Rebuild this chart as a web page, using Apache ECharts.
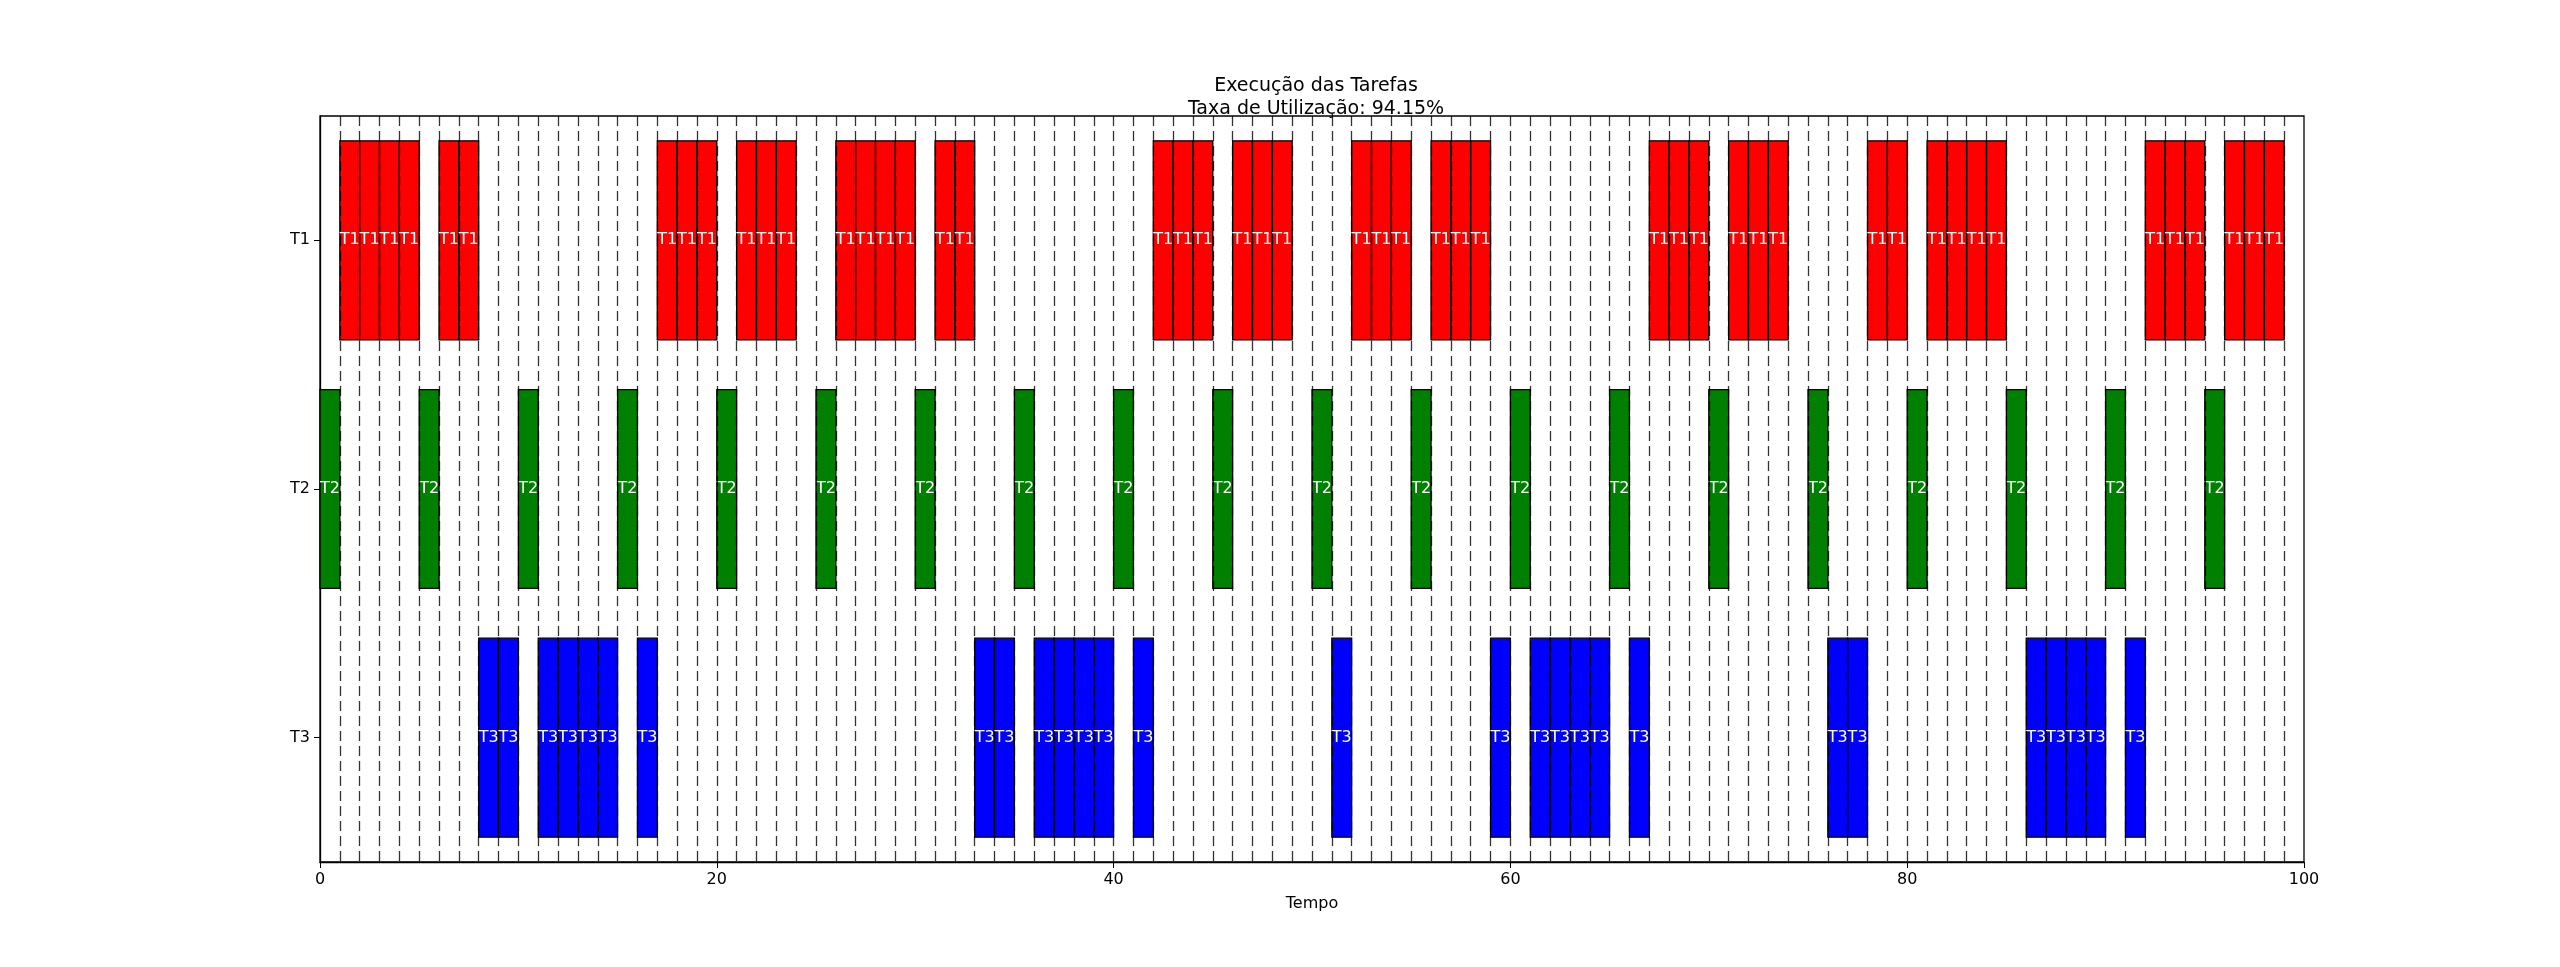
<!DOCTYPE html>
<html><head><meta charset="utf-8">
<script src="https://cdn.jsdelivr.net/npm/echarts@6/dist/echarts.min.js"></script>
<style>html,body{margin:0;padding:0;background:#fff}#c{width:2560px;height:967px}</style>
</head><body><div id="c"></div>
<script>
const tasks = ['T1','T2','T3'];
const colors = {T1:'#ff0000',T2:'#008000',T3:'#0000ff'};
const t1Starts = [1,2,3,4,6,7,17,18,19,21,22,23,26,27,28,29,31,32,42,43,44,46,47,48,52,53,54,56,57,58,67,68,69,71,72,73,78,79,81,82,83,84,92,93,94,96,97,98];
const t2Starts = [0,5,10,15,20,25,30,35,40,45,50,55,60,65,70,75,80,85,90,95];
const t3Starts = [8,9,11,12,13,14,16,33,34,36,37,38,39,41,51,59,61,62,63,64,66,76,77,86,87,88,89,91];
const xTicks = [0,20,40,60,80,100];
const F = 'DejaVu Sans';

const data = [];
[[0,t1Starts],[1,t2Starts],[2,t3Starts]].forEach(([ti,arr])=>arr.forEach(s=>data.push([s,s+1,ti])));
const gridLines = [];
for (let i=1;i<100;i++) gridLines.push({xAxis:i});

const chart = echarts.init(document.getElementById('c'));
chart.setOption({
  animation:false,
  title:{text:'Execução das Tarefas\nTaxa de Utilização: 94.15%',left:1311,top:70,textAlign:'center',
    textStyle:{fontFamily:F,fontSize:19,fontWeight:'normal',color:'#000',lineHeight:23}},
  grid:{left:320,top:116,width:1984,height:746,show:true,borderColor:'#000',borderWidth:1.3},
  xAxis:{type:'value',min:0,max:100,interval:20,name:'Tempo',nameLocation:'middle',nameGap:34,
    nameTextStyle:{fontFamily:F,fontSize:16,color:'#000'},
    axisLine:{show:true,lineStyle:{color:'#000',width:1.3}},axisTick:{show:true,length:6,lineStyle:{color:'#000'}},
    axisLabel:{fontFamily:F,fontSize:16,color:'#000',margin:10},splitLine:{show:false}},
  yAxis:{type:'category',data:tasks,inverse:true,
    axisLine:{show:true,lineStyle:{color:'#000',width:1.3}},axisTick:{show:true,alignWithLabel:true,length:6,lineStyle:{color:'#000'}},
    axisLabel:{fontFamily:F,fontSize:16,color:'#000',margin:10},splitLine:{show:false}},
  series:[
    {type:'custom',data:data,encode:{x:[0,1],y:2},
      renderItem:(params,api)=>{
        const s=api.coord([api.value(0),api.value(2)]);
        const e=api.coord([api.value(1),api.value(2)]);
        const h=api.size([0,1])[1]*0.8;
        const name=tasks[api.value(2)];
        return {type:'rect',shape:{x:s[0],y:s[1]-h/2,width:e[0]-s[0],height:h},
          style:{fill:colors[name],stroke:'#000',lineWidth:1.3,text:name,textFill:'#fff',
            fontFamily:F,fontSize:16,textPosition:'inside'}};
      }},
    {type:'line',data:[],markLine:{symbol:'none',silent:true,label:{show:false},
      lineStyle:{type:[10,5],color:'#000',width:1.3,opacity:0.8},data:gridLines}}
  ]
});
</script></body></html>
